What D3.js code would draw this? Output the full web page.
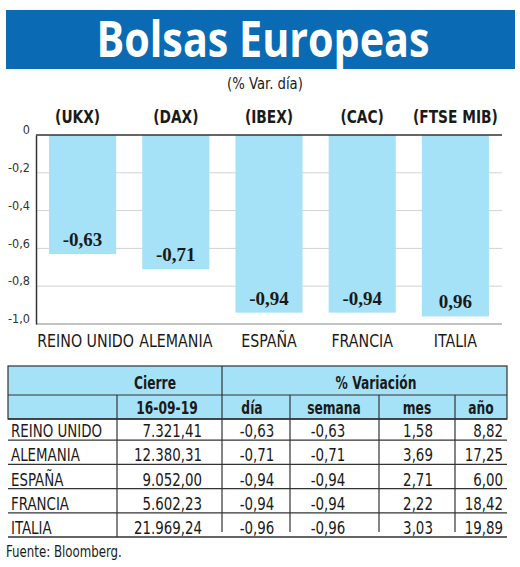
<!DOCTYPE html>
<html lang="es">
<head>
<meta charset="UTF-8">
<title>Bolsas Europeas</title>
<script src="https://d3js.org/d3.v7.min.js"></script>
<style>
  * { margin: 0; padding: 0; box-sizing: border-box; }
  body { background: #fff; }
  svg { display: block; }
  .narrow { font-family: "Liberation Sans Narrow", "DejaVu Sans Condensed", "Roboto Condensed", Roboto, sans-serif; }
</style>
</head>
<body>
<div id="chart"></div>
<script>
// chart data
const countries = ["REINO UNIDO", "ALEMANIA", "ESPAÑA", "FRANCIA", "ITALIA"];
const indices = ["(UKX)", "(DAX)", "(IBEX)", "(CAC)", "(FTSE MIB)"];
const dayChange = [-0.63, -0.71, -0.94, -0.94, -0.96];
const barLabels = ["-0,63", "-0,71", "-0,94", "-0,94", "0,96"];
const yTicks = [0, -0.2, -0.4, -0.6, -0.8, -1.0];

// table data
const closeDate = "16-09-19";
const closeValues = ["7.321,41", "12.380,31", "9.052,00", "5.602,23", "21.969,24"];
const weekChange = [-0.63, -0.71, -0.94, -0.94, -0.96];
const monthChange = [1.58, 3.69, 2.71, 2.22, 3.03];
const yearChange = [8.82, 17.25, 6.00, 18.42, 19.89];

const width = 520, height = 567;
const blue = "#0a6ab4", barColor = "#a6e2f7", ink = "#1a1a1a";
// spanish decimals, plain hyphen for the minus
const comma = (v, p = 2) => d3.format("." + p + "f")(v).replace("−", "-").replace(".", ",");

// squeeze text horizontally (the original uses a condensed face)
function squeeze(sel, sx) {
    sel.attr("transform", function () {
        const t = d3.select(this);
        return `translate(${+t.attr("x")},${+t.attr("y")}) scale(${sx},1)`;
    }).attr("x", 0).attr("y", 0);
}

const svg = d3.select("#chart").append("svg")
    .attr("width", width)
    .attr("height", height);

// banner
svg.append("rect")
    .attr("x", 6).attr("y", 10)
    .attr("width", 509).attr("height", 59)
    .attr("fill", blue);

svg.append("text")
    .attr("x", 263).attr("y", 57)
    .attr("text-anchor", "middle")
    .attr("font-family", "'Open Sans', sans-serif")
    .attr("font-weight", "bold")
    .attr("font-size", 51)
    .attr("textLength", 333)
    .attr("lengthAdjust", "spacingAndGlyphs")
    .attr("fill", "#fff")
    .text("Bolsas Europeas");

svg.append("text")
    .attr("class", "narrow")
    .attr("x", 265).attr("y", 89)
    .attr("text-anchor", "middle")
    .attr("font-size", 16)
    .attr("fill", ink)
    .text("(% Var. día)")
    .call(squeeze, 0.92);

// scales
const x = d3.scaleBand()
    .domain(countries)
    .range([36, 502])
    .paddingInner(0.28)
    .paddingOuter(0.14);

const y = d3.scaleLinear()
    .domain([-1, 0])
    .range([324, 135]);

// grid
svg.append("g")
    .selectAll("line")
    .data(yTicks.filter(t => t < 0 && t > -1))
    .join("line")
    .attr("x1", 36).attr("x2", 502)
    .attr("y1", d => y(d)).attr("y2", d => y(d))
    .attr("stroke", "#d2d2d2")
    .attr("stroke-width", 1);

// bars
svg.append("g")
    .selectAll("rect")
    .data(dayChange)
    .join("rect")
    .attr("x", (d, i) => x(countries[i]))
    .attr("y", y(0))
    .attr("width", x.bandwidth())
    .attr("height", d => y(d) - y(0))
    .attr("fill", barColor);

// bottom and top lines, left axis
svg.append("line")
    .attr("x1", 36).attr("x2", 502)
    .attr("y1", y(-1)).attr("y2", y(-1))
    .attr("stroke", "#c4c4c4").attr("stroke-width", 2);
svg.append("line")
    .attr("x1", 36).attr("x2", 502)
    .attr("y1", y(0)).attr("y2", y(0))
    .attr("stroke", "#333").attr("stroke-width", 1.5);

const yAxis = svg.append("g")
    .attr("transform", "translate(36,0)")
    .call(d3.axisLeft(y)
        .tickValues(yTicks)
        .tickSize(0)
        .tickPadding(6)
        .tickFormat(d => d === 0 ? "0" : comma(d, 1)));
yAxis.select(".domain").attr("stroke", "#333").attr("stroke-width", 1.5);
yAxis.selectAll("text")
    .attr("class", "narrow")
    .attr("font-size", 12.5)
    .attr("fill", "#333")
    .attr("dy", "-0.1em");

// value labels
svg.append("g")
    .selectAll("text")
    .data(dayChange)
    .join("text")
    .attr("x", (d, i) => x(countries[i]) + x.bandwidth() / 2)
    .attr("y", d => y(d) - 8)
    .attr("text-anchor", "middle")
    .attr("font-family", "'Liberation Serif', 'DejaVu Serif', serif")
    .attr("font-weight", "bold")
    .attr("font-size", 19)
    .attr("fill", ink)
    .text((d, i) => barLabels[i]);

// index names above
svg.append("g")
    .selectAll("text")
    .data(indices)
    .join("text")
    .attr("class", "narrow")
    .attr("x", (d, i) => x(countries[i]) + x.bandwidth() / 2 - (i === 0 ? 5 : 0))
    .attr("y", 123)
    .attr("text-anchor", "middle")
    .attr("font-size", 17)
    .attr("font-weight", "bold")
    .attr("fill", ink)
    .text(d => d)
    .call(squeeze, 0.9);

// country names below
svg.append("g")
    .selectAll("text")
    .data(countries)
    .join("text")
    .attr("class", "narrow")
    .attr("x", d => x(d) + x.bandwidth() / 2 + (d === "REINO UNIDO" ? 3 : 0))
    .attr("y", 347)
    .attr("text-anchor", "middle")
    .attr("font-size", 17)
    .attr("fill", ink)
    .text(d => d)
    .call(squeeze, 0.93);

// ---- table ----
const tLeft = 8, tRight = 507, tTop = 366, hMid = 395, hBottom = 419;
const cols = [117, 222, 290, 379, 455];
const rowY = d3.scaleBand().domain(countries).range([416, 537]);

const table = svg.append("g").attr("class", "narrow");

table.append("rect")
    .attr("x", tLeft).attr("y", tTop)
    .attr("width", tRight - tLeft).attr("height", hBottom - tTop)
    .attr("fill", barColor)
    .attr("stroke", "#333").attr("stroke-width", 1.2);

table.append("line")
    .attr("x1", tLeft).attr("x2", tRight)
    .attr("y1", hMid).attr("y2", hMid)
    .attr("stroke", "#333").attr("stroke-width", 1.2);
table.append("line")
    .attr("x1", tLeft).attr("x2", tRight)
    .attr("y1", hBottom).attr("y2", hBottom)
    .attr("stroke", "#333").attr("stroke-width", 1.5);

// vertical dividers
table.append("line")
    .attr("x1", cols[1]).attr("x2", cols[1])
    .attr("y1", tTop).attr("y2", 532)
    .attr("stroke", "#333").attr("stroke-width", 1.2);
table.selectAll(".vdiv")
    .data([cols[0], cols[2], cols[3], cols[4]])
    .join("line")
    .attr("x1", d => d).attr("x2", d => d)
    .attr("y1", hMid).attr("y2", d => d === cols[0] ? 537 : 532)
    .attr("stroke", "#333").attr("stroke-width", 1.2);

// row underlines
table.selectAll(".rline")
    .data(countries)
    .join("line")
    .attr("x1", tLeft).attr("x2", tRight)
    .attr("y1", d => rowY(d) + rowY.bandwidth())
    .attr("y2", d => rowY(d) + rowY.bandwidth())
    .attr("stroke", "#333").attr("stroke-width", 1.3);

// headers
const headers = [
    { t: "Cierre", x: 155, y: 389 },
    { t: "% Variación", x: 376, y: 389 },
    { t: closeDate, x: 167, y: 414 },
    { t: "día", x: 252, y: 414 },
    { t: "semana", x: 334, y: 414 },
    { t: "mes", x: 417, y: 414 },
    { t: "año", x: 481, y: 414 }
];
table.selectAll(".hdr")
    .data(headers)
    .join("text")
    .attr("x", d => d.x).attr("y", d => d.y)
    .attr("text-anchor", "middle")
    .attr("font-size", 17.5)
    .attr("font-weight", "bold")
    .attr("fill", ink)
    .text(d => d.t)
    .call(squeeze, 0.78);

// body cells
const cells = [];
countries.forEach((c, i) => {
    cells.push({ r: c, t: c, x: 11, a: "start" });
    cells.push({ r: c, t: closeValues[i], x: 202, a: "end" });
    cells.push({ r: c, t: comma(dayChange[i]), x: 257, a: "middle" });
    cells.push({ r: c, t: comma(weekChange[i]), x: 328, a: "middle" });
    cells.push({ r: c, t: comma(monthChange[i]), x: 418, a: "middle" });
    cells.push({ r: c, t: comma(yearChange[i]), x: 503, a: "end" });
});
table.selectAll(".cell")
    .data(cells)
    .join("text")
    .attr("x", d => d.x)
    .attr("y", d => rowY(d.r) + rowY.bandwidth() - 3)
    .attr("text-anchor", d => d.a)
    .attr("font-size", 17.5)
    .attr("fill", ink)
    .text(d => d.t)
    .call(squeeze, 0.85);

svg.append("text")
    .attr("class", "narrow")
    .attr("x", 6).attr("y", 557)
    .attr("font-size", 16)
    .attr("fill", ink)
    .text("Fuente: Bloomberg.")
    .call(squeeze, 0.82);
</script>
</body>
</html>
